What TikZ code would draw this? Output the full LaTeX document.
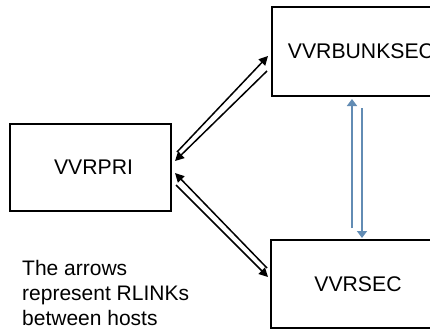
\documentclass[tikz,border=0pt]{standalone}
\usepackage{fontspec}
\setmainfont{Liberation Sans}
\usetikzlibrary{arrows.meta}
\definecolor{linkblue}{RGB}{98,140,180}
\begin{document}
\begin{tikzpicture}[x=1bp,y=-1bp,
  hostbox/.style={draw=black,line width=1.6bp,rectangle,inner sep=0pt,
    font=\fontsize{21.2bp}{25bp}\selectfont},
  rlink/.style={draw=black,line width=1.5bp,-{Triangle[length=9bp,width=9bp]}},
  bluelink/.style={draw=linkblue,line width=2bp,-{Triangle[length=7bp,width=10bp]}},
  note/.style={align=left,inner sep=0pt,anchor=north west,
    font=\fontsize{21bp}{25bp}\selectfont}]
\useasboundingbox (0,0) rectangle (430,330);
\fill[white] (0,0) rectangle (430,330);
\node[hostbox,minimum width=161bp,minimum height=87bp] (pri) at (90.5,167.5) {\hspace*{6bp}VVRPRI};
\node[hostbox,minimum width=178bp,minimum height=89bp] (bunk) at (361,51.5) {VVRBUNKSEC};
\node[hostbox,minimum width=174bp,minimum height=88bp] (sec) at (358,284) {VVRSEC};
% black RLINK arrows
\coordinate (a1) at (177,152); \coordinate (a2) at (268,56);
\coordinate (b1) at (267,71);  \coordinate (b2) at (175,161);
\coordinate (c1) at (267,268); \coordinate (c2) at (175,173);
\coordinate (d1) at (176,185); \coordinate (d2) at (268,277);
\draw[rlink] (a1) -- (a2);
\draw[rlink] (b1) -- (b2);
\draw[rlink] (c1) -- (c2);
\draw[rlink] (d1) -- (d2);
% blue arrows
\coordinate (e1) at (352,228); \coordinate (e2) at (352,99);
\coordinate (f1) at (362,108); \coordinate (f2) at (362,238);
\draw[bluelink] (e1) -- (e2);
\draw[bluelink] (f1) -- (f2);
\node[note] (txt) at (22,260) {The arrows\\represent RLINKs\\between hosts};
\end{tikzpicture}
\end{document}
